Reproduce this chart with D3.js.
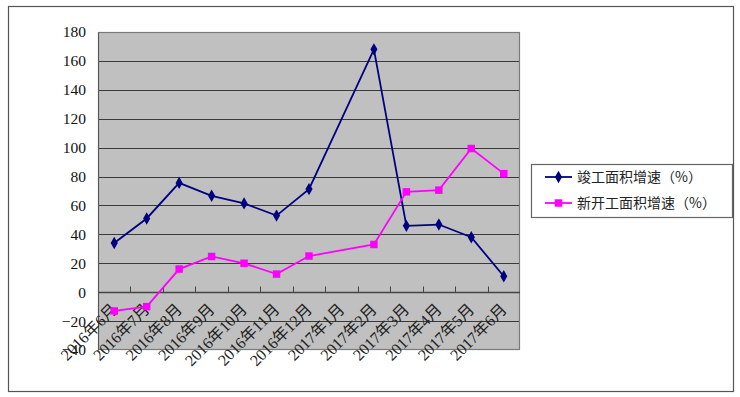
<!DOCTYPE html>
<html>
<head>
<meta charset="utf-8">
<script src="https://cdn.jsdelivr.net/npm/d3@7"></script>
<style>
  html, body { margin: 0; padding: 0; background: #fff; }
  svg { display: block; }
</style>
</head>
<body>
<div id="chart"></div>
<script>
const months = ["2016年6月", "2016年7月", "2016年8月", "2016年9月", "2016年10月", "2016年11月",
  "2016年12月", "2017年1月", "2017年2月", "2017年3月", "2017年4月", "2017年5月", "2017年6月"];
const completedGrowth = [34, 51, 75.6, 66.7, 61.4, 53, 71.3, null, 168, 45.9, 46.8, 38, 11];
const newStartGrowth = [-13, -10, 16, 24.7, 20, 12.5, 25, null, 33, 69.4, 70.6, 99.4, 82];
const yTicks = [-40, -20, 0, 20, 40, 60, 80, 100, 120, 140, 160, 180];
const seriesNames = ["竣工面积增速（%）", "新开工面积增速（%）"];

const width = 740, height = 397;
const plot = { left: 98, right: 520, top: 32, bottom: 350 };
const serif = "'Liberation Serif', 'Times New Roman', 'Noto Sans CJK SC', serif";
const sans = "'Noto Sans CJK SC', 'DejaVu Sans', sans-serif";

const svg = d3.select("#chart").append("svg")
  .attr("width", width)
  .attr("height", height);

// outer frame
svg.append("rect")
  .attr("x", 8.5).attr("y", 6.5)
  .attr("width", 725).attr("height", 385)
  .attr("fill", "#fff")
  .attr("stroke", "#555")
  .attr("stroke-width", 1.2);

const x = d3.scaleBand()
  .domain(months)
  .range([plot.left, plot.right]);

const y = d3.scaleLinear()
  .domain([-40, 180])
  .range([plot.bottom, plot.top]);

// plot background
svg.append("rect")
  .attr("x", plot.left).attr("y", plot.top)
  .attr("width", plot.right - plot.left)
  .attr("height", plot.bottom - plot.top)
  .attr("fill", "#c0c0c0");

// gridlines
svg.append("g")
  .selectAll("line")
  .data(yTicks.filter(d => d !== -40 && d !== 180))
  .enter()
  .append("line")
  .attr("x1", plot.left).attr("x2", plot.right)
  .attr("y1", d => Math.round(y(d)) + 0.5)
  .attr("y2", d => Math.round(y(d)) + 0.5)
  .attr("stroke", "#3a3a3a")
  .attr("stroke-width", 1);

// plot border
svg.append("rect")
  .attr("x", plot.left + 0.5).attr("y", plot.top + 0.5)
  .attr("width", plot.right - plot.left - 1)
  .attr("height", plot.bottom - plot.top - 1)
  .attr("fill", "none")
  .attr("stroke", "#7a7a7a")
  .attr("stroke-width", 1.2);

// y axis
const yAxis = svg.append("g")
  .attr("transform", `translate(${plot.left},0)`)
  .call(d3.axisLeft(y).tickValues(yTicks).tickSize(0).tickPadding(12));
yAxis.select(".domain").attr("stroke", "#555");
yAxis.selectAll("text")
  .style("font-family", serif)
  .style("font-size", "15.5px")
  .attr("fill", "#111");

// x axis on the zero line, ticks at category boundaries
const zeroY = Math.round(y(0)) + 0.5;
svg.append("line")
  .attr("x1", plot.left).attr("x2", plot.right)
  .attr("y1", zeroY).attr("y2", zeroY)
  .attr("stroke", "#444").attr("stroke-width", 1.3);

svg.append("g")
  .selectAll("line")
  .data(months.slice(1))
  .enter()
  .append("line")
  .attr("x1", d => Math.round(x(d)) + 0.5)
  .attr("x2", d => Math.round(x(d)) + 0.5)
  .attr("y1", zeroY - 6).attr("y2", zeroY)
  .attr("stroke", "#444");

svg.append("g")
  .selectAll("text")
  .data(months)
  .enter()
  .append("text")
  .attr("transform", d => `translate(${x(d) + x.bandwidth() / 2 + 4},${zeroY + 18}) rotate(-45)`)
  .attr("text-anchor", "end")
  .style("font-family", serif)
  .style("font-size", "16px")
  .attr("fill", "#222")
  .text(d => d);

// series
const series = [
  { name: seriesNames[0], values: completedGrowth, color: "#000080", shape: d3.symbolDiamond, size: 44 },
  { name: seriesNames[1], values: newStartGrowth, color: "#ff00ff", shape: d3.symbolSquare, size: 56 }
];

const line = d3.line()
  .x(d => x(d.month) + x.bandwidth() / 2)
  .y(d => y(d.value));

series.forEach(s => {
  const pts = months.map((m, i) => ({ month: m, value: s.values[i] }))
    .filter(d => d.value !== null);

  svg.append("path")
    .datum(pts)
    .attr("d", line)
    .attr("fill", "none")
    .attr("stroke", s.color)
    .attr("stroke-width", 1.8);

  svg.append("g")
    .selectAll("path")
    .data(pts)
    .enter()
    .append("path")
    .attr("d", d3.symbol().type(s.shape).size(s.size))
    .attr("transform", d => `translate(${x(d.month) + x.bandwidth() / 2},${y(d.value)})`)
    .attr("fill", s.color);
});

// legend
const legend = svg.append("g");
legend.append("rect")
  .attr("x", 531.5).attr("y", 164.5)
  .attr("width", 201).attr("height", 53)
  .attr("fill", "#fff")
  .attr("stroke", "#666")
  .attr("stroke-width", 1.2);

series.forEach((s, i) => {
  const ly = 177 + i * 26;
  legend.append("line")
    .attr("x1", 545).attr("x2", 572)
    .attr("y1", ly).attr("y2", ly)
    .attr("stroke", s.color)
    .attr("stroke-width", 1.8);
  legend.append("path")
    .attr("d", d3.symbol().type(s.shape).size(s.size))
    .attr("transform", `translate(558.5,${ly})`)
    .attr("fill", s.color);
  legend.append("text")
    .attr("x", 577).attr("y", ly + 5)
    .style("font-family", sans)
    .style("font-size", "14px")
    .attr("fill", "#222")
    .text(s.name);
});
</script>
</body>
</html>
